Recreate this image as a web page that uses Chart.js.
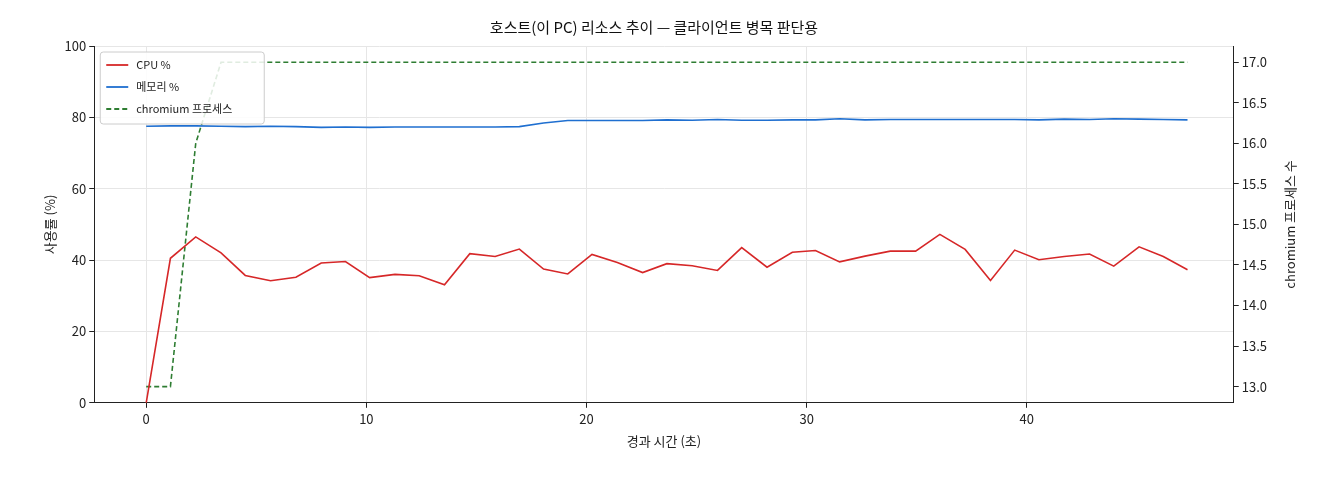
<!DOCTYPE html>
<html><head><meta charset="utf-8">
<script src="https://cdn.jsdelivr.net/npm/chart.js@4"></script>
<style>body{margin:0;background:#fff}#w{width:1320px;height:480px}</style>
</head><body><div id="w"><canvas id="c"></canvas></div>
<script>
const times=[0,1.1,2.25,3.4,4.5,5.65,6.8,7.95,9.05,10.15,11.3,12.4,13.55,14.7,15.85,16.95,18.05,19.15,20.25,21.4,22.55,23.65,24.8,25.95,27.05,28.2,29.35,30.4,31.5,32.65,33.8,34.95,36.05,37.2,38.35,39.45,40.55,41.7,42.85,43.95,45.1,46.2,47.3];
const cpu=[0,40.5,46.5,42,35.7,34.2,35.2,39.2,39.6,35.1,36,35.6,33.1,41.8,41,43.1,37.5,36.1,41.6,39.3,36.5,39,38.4,37.1,43.5,38,42.2,42.7,39.5,41.1,42.5,42.5,47.2,43,34.3,42.8,40.1,41,41.7,38.3,43.7,41,37.3];
const mem=[77.5,77.6,77.6,77.5,77.4,77.5,77.4,77.2,77.3,77.2,77.3,77.3,77.3,77.3,77.3,77.4,78.4,79.1,79.1,79.1,79.1,79.3,79.2,79.4,79.2,79.2,79.3,79.3,79.6,79.3,79.4,79.4,79.4,79.4,79.4,79.4,79.3,79.5,79.4,79.6,79.5,79.4,79.3];
const procs=[13,13,16,17,17,17,17,17,17,17,17,17,17,17,17,17,17,17,17,17,17,17,17,17,17,17,17,17,17,17,17,17,17,17,17,17,17,17,17,17,17,17,17];
const F="'Noto Sans CJK KR','DejaVu Sans',sans-serif";
Chart.defaults.font.family=F;Chart.defaults.color='#222';
const pts=a=>a.map((v,i)=>({x:times[i],y:v}));
const grid={color:'#e6e6e6',drawTicks:true,tickLength:5,tickColor:'#222'};
const extra={id:'extra',afterDraw(c){const g=c.ctx,a=c.chartArea;g.save();
// right title
g.font="13px "+F;g.fillStyle='#222';g.textAlign='center';g.textBaseline='middle';
g.translate(1290,(a.top+a.bottom)/2);g.rotate(-Math.PI/2);g.fillText('chromium 프로세스 수',0,0);g.restore();
// legend
g.save();const x=a.left+6,y=a.top+6;g.fillStyle='rgba(255,255,255,0.85)';g.strokeStyle='#ccc';g.lineWidth=1;
g.beginPath();g.roundRect(x,y,164,72,3);g.fill();g.stroke();
g.font="11px "+F;g.textBaseline='middle';g.textAlign='left';
c.data.datasets.forEach((d,i)=>{const yy=y+13+i*22;g.strokeStyle=d.borderColor;g.lineWidth=1.8;g.setLineDash(d.borderDash||[]);
g.beginPath();g.moveTo(x+6,yy);g.lineTo(x+28,yy);g.stroke();g.setLineDash([]);g.fillStyle='#222';g.fillText(d.label,x+36,yy);});
g.restore();}};
new Chart(document.getElementById('c'),{type:'line',
data:{datasets:[
{label:'CPU %',data:pts(cpu),borderColor:'#d62728',borderWidth:1.6,pointRadius:0,yAxisID:'y',tension:0},
{label:'메모리 %',data:pts(mem),borderColor:'#1f6fd0',borderWidth:1.6,pointRadius:0,yAxisID:'y',tension:0},
{label:'chromium 프로세스',data:pts(procs),borderColor:'#2e7d32',borderDash:[5,3],borderWidth:1.6,pointRadius:0,yAxisID:'y1',tension:0}]},
plugins:[extra],
options:{responsive:true,maintainAspectRatio:false,animation:false,
layout:{padding:{left:38,right:50,top:12,bottom:27}},
plugins:{title:{display:true,text:'호스트(이 PC) 리소스 추이 — 클라이언트 병목 판단용',font:{size:15,weight:'normal'},color:'#111',padding:{top:6,bottom:10}},
legend:{display:false}},
scales:{
x:{type:'linear',min:-2.36,max:49.4,title:{display:true,text:'경과 시간 (초)',font:{size:13}},ticks:{font:{size:13}},afterBuildTicks:a=>{a.ticks=[0,10,20,30,40].map(v=>({value:v}))},grid:grid,border:{color:'#222'}},
y:{min:0,max:100,title:{display:true,text:'사용률 (%)',font:{size:13}},ticks:{stepSize:20,font:{size:13}},grid:grid,border:{color:'#222'}},
y1:{position:'right',min:12.8,max:17.2,ticks:{font:{size:13},callback:v=>v.toFixed(1)},afterBuildTicks:a=>{a.ticks=[13,13.5,14,14.5,15,15.5,16,16.5,17].map(v=>({value:v}))},grid:{drawOnChartArea:false,tickLength:5,tickColor:'#222'},border:{color:'#222'}}}}});
</script></body></html>
